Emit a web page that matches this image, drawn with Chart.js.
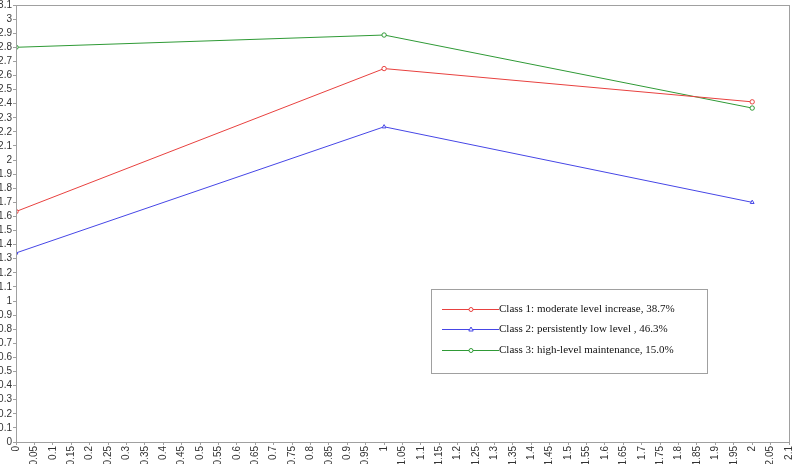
<!DOCTYPE html>
<html>
<head>
<meta charset="utf-8">
<script src="https://cdn.jsdelivr.net/npm/chart.js@4"></script>
<style>
  html, body { margin: 0; padding: 0; background: #fff; }
  #wrap { width: 794px; height: 464px; position: relative; }
</style>
</head>
<body>
<div id="wrap"><canvas id="trajChart"></canvas></div>
<script>
// data
const timePoints = [0, 1, 2];
const class1 = [1.635, 2.649, 2.413];
const class2 = [1.341, 2.236, 1.700];
const class3 = [2.800, 2.887, 2.369];
const seriesLabels = [
    'Class 1: moderate level increase, 38.7%',
    'Class 2: persistently low level , 46.3%',
    'Class 3: high-level maintenance, 15.0%'
];
const xMin = 0, xMax = 2.1, xStep = 0.05;
const yMin = 0, yMax = 3.1, yStep = 0.1;

const axisGray = '#a0a0a0';
const tickText = '#333';

function toPoints(vals) {
    return timePoints.map((t, i) => ({ x: t, y: vals[i] }));
}

function trimNum(v) {
    return String(parseFloat(Number(v).toFixed(2)));
}

// box round the plot area
const frameBox = {
    id: 'frameBox',
    afterDraw(chart) {
        const { ctx, chartArea: a } = chart;
        ctx.save();
        ctx.strokeStyle = axisGray;
        ctx.lineWidth = 1;
        ctx.strokeRect(Math.round(a.left) + 0.5, Math.round(a.top) + 0.5,
            Math.round(a.right - a.left), Math.round(a.bottom - a.top));
        ctx.restore();
    }
};

// legend box inside the plot, drawn on the canvas
const insideLegend = {
    id: 'insideLegend',
    afterDraw(chart) {
        const ctx = chart.ctx;
        const box = { x: 431, y: 289, w: 276, h: 84 };
        ctx.save();
        ctx.fillStyle = '#fff';
        ctx.fillRect(box.x, box.y, box.w, box.h);
        ctx.strokeStyle = axisGray;
        ctx.lineWidth = 1;
        ctx.strokeRect(box.x + 0.5, box.y + 0.5, box.w, box.h);
        ctx.font = '11px "Liberation Serif", "Times New Roman", serif';
        ctx.textBaseline = 'middle';
        chart.data.datasets.forEach((ds, i) => {
            const y = 308.5 + i * 20.5;
            const yy = Math.round(y) + 0.5;
            ctx.strokeStyle = ds.borderColor;
            ctx.beginPath();
            ctx.moveTo(442, yy);
            ctx.lineTo(499, yy);
            ctx.stroke();
            ctx.fillStyle = '#fff';
            ctx.beginPath();
            if (ds.pointStyle === 'triangle') {
                ctx.moveTo(471, yy - 2.5);
                ctx.lineTo(473.2, yy + 1.5);
                ctx.lineTo(468.8, yy + 1.5);
                ctx.closePath();
            } else {
                ctx.arc(471, yy, 2, 0, Math.PI * 2);
            }
            ctx.fill();
            ctx.stroke();
            ctx.fillStyle = '#111';
            ctx.fillText(ds.label, 499, y + 0.5);
        });
        ctx.restore();
    }
};

function makeDataset(label, vals, color, style) {
    return {
        label,
        data: toPoints(vals),
        borderColor: color,
        backgroundColor: '#fff',
        borderWidth: 1,
        pointStyle: style,
        pointRadius: 2.2,
        pointBorderWidth: 1,
        pointBackgroundColor: '#fff',
        tension: 0
    };
}

function createTrajectoryChart(canvasId) {
    const canvas = document.getElementById(canvasId);
    if (!canvas) return;
    const ctx = canvas.getContext('2d');

    new Chart(ctx, {
        type: 'line',
        data: {
            datasets: [
                makeDataset(seriesLabels[0], class1, '#e8413f', 'circle'),
                makeDataset(seriesLabels[1], class2, '#4646e6', 'triangle'),
                makeDataset(seriesLabels[2], class3, '#2f9a36', 'circle')
            ]
        },
        options: {
            responsive: true,
            maintainAspectRatio: false,
            animation: false,
            layout: { padding: { top: 4, right: 4, left: 0, bottom: 0 } },
            scales: {
                x: {
                    type: 'linear',
                    min: xMin,
                    max: xMax,
                    border: { display: true, color: axisGray },
                    grid: { display: true, drawOnChartArea: false, tickLength: 3, color: axisGray },
                    afterFit: s => {
                        s.height = 22;
                        s.paddingLeft = 0;
                        s.paddingRight = 0;
                    },
                    ticks: {
                        stepSize: xStep,
                        autoSkip: false,
                        minRotation: 90,
                        maxRotation: 90,
                        padding: 1,
                        color: tickText,
                        font: { family: '"Liberation Sans", Arial, sans-serif', size: 10 },
                        callback: v => trimNum(v)
                    }
                },
                y: {
                    type: 'linear',
                    min: yMin,
                    max: yMax,
                    border: { display: true, color: axisGray },
                    grid: { display: true, drawOnChartArea: false, tickLength: 3, color: axisGray },
                    afterFit: s => {
                        s.width = 16;
                        s.paddingTop = 0;
                        s.paddingBottom = 0;
                    },
                    ticks: {
                        stepSize: yStep,
                        autoSkip: false,
                        padding: 1,
                        color: tickText,
                        font: { family: '"Liberation Sans", Arial, sans-serif', size: 10 },
                        callback: v => trimNum(v)
                    }
                }
            },
            plugins: {
                legend: { display: false },
                tooltip: { enabled: false }
            }
        },
        plugins: [frameBox, insideLegend]
    });
}

createTrajectoryChart('trajChart');
</script>
</body>
</html>
